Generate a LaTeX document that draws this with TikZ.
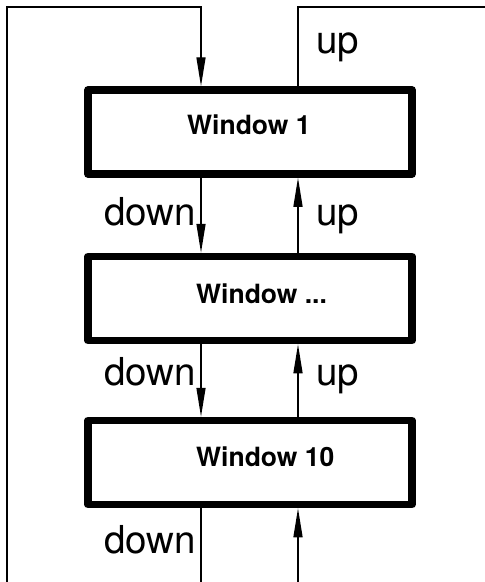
\documentclass[tikz,border=0pt]{standalone}
\usepackage{fontspec}
\setmainfont{TeX Gyre Heros}
\usetikzlibrary{arrows.meta}
\begin{document}
\begin{tikzpicture}[x=1pt,y=-1pt,
  winbox/.style={draw=black,line width=7.5pt,line join=round,minimum width=324pt,minimum height=84pt,inner sep=0pt,fill=white},
  wintext/.style={inner sep=0pt,anchor=base west,font=\fontsize{26.5}{29}\selectfont\bfseries},
  flowlabel/.style={inner sep=0pt,anchor=base west,font=\fontsize{38.5}{42}\selectfont},
  conn/.style={draw=black,line width=1.4pt},
  arr/.style={conn,-{Triangle[length=29pt,width=9pt]}}]
\useasboundingbox (0,0) rectangle (485,582);
% boxes
\node[winbox] (w1) at (250,132) {};
\node[winbox] (w2) at (250,298.5) {};
\node[winbox] (w3) at (250,462.5) {};
\node[wintext] (t1) at (187,134) {Window 1};
\node[wintext] (t2) at (196,303) {Window ...};
\node[wintext] (t3) at (196,466) {Window 10};
% helper coordinates
\coordinate (dx) at (201,0);
\coordinate (ux) at (298,0);
\coordinate (lb) at (7,582);
\coordinate (tl) at (7,7);
\coordinate (tm) at (201,7);
\coordinate (tu) at (298,7);
\coordinate (tr) at (485,7);
\coordinate (bd) at (201,582);
\coordinate (bu) at (298,582);
% connectors
\draw[arr] (lb) -- (tl) -- (tm) -- (dx |- w1.north);
\draw[conn] (ux |- w1.north) -- (tu) -- (tr);
\draw[arr] (dx |- w1.south) -- (dx |- w2.north);
\draw[arr] (ux |- w2.north) -- (ux |- w1.south);
\draw[arr] (dx |- w2.south) -- (dx |- w3.north);
\draw[arr] (ux |- w3.north) -- (ux |- w2.south);
\draw[conn] (dx |- w3.south) -- (bd);
\draw[arr] (bu) -- (ux |- w3.south);
% labels
\node[flowlabel] (l1) at (316,53) {up};
\node[flowlabel] (l2) at (104,225) {down};
\node[flowlabel] (l3) at (316,225) {up};
\node[flowlabel] (l4) at (104,385) {down};
\node[flowlabel] (l5) at (316,385) {up};
\node[flowlabel] (l6) at (104,553) {down};
\end{tikzpicture}
\end{document}
